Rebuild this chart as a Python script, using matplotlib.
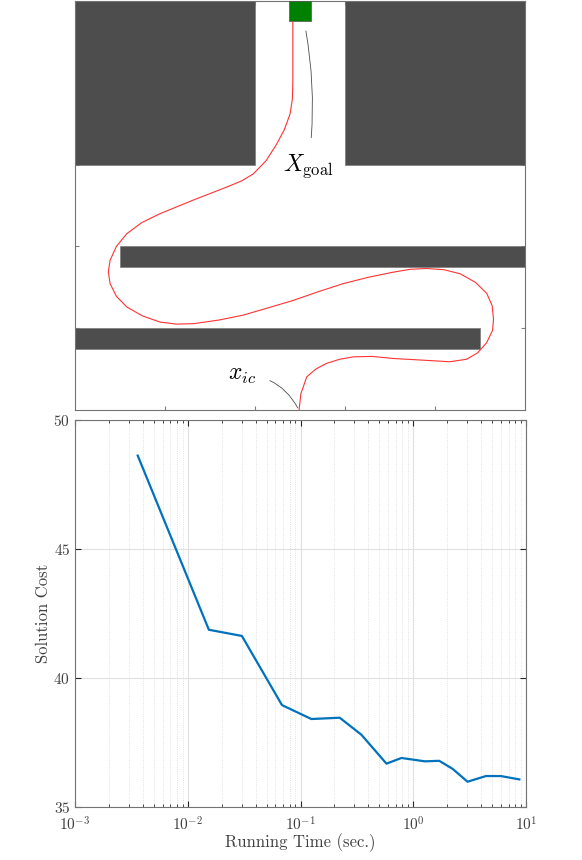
import matplotlib
matplotlib.use("Agg")
import matplotlib.pyplot as plt
from matplotlib.patches import Rectangle

plt.rcParams['mathtext.fontset'] = 'cm'
plt.rcParams['font.family'] = 'serif'
plt.rcParams['font.serif'] = ['cmr10', 'DejaVu Serif']
plt.rcParams['axes.formatter.use_mathtext'] = True

# ---- Top panel data: obstacles (x, y, width, height) in map units ----
obst_x = [0.0, 6.0, 1.0, 0.0]
obst_y = [6.0, 6.0, 3.5, 1.5]
obst_w = [4.0, 4.0, 9.0, 9.0]
obst_h = [4.0, 4.0, 0.5, 0.5]
goal_xy = (4.75, 9.5)
goal_size = (0.5, 0.5)

# path points
path_x = [4.98, 5.02, 5.15, 5.35, 5.59, 5.88, 6.19, 6.6, 7.07, 7.7, 8.33, 8.7, 8.95, 9.15, 9.28, 9.30, 9.27,
          9.15, 8.9, 8.56, 8.2, 7.81, 7.45, 7.07, 6.5, 5.96, 5.4, 4.85, 4.3, 3.74, 3.2, 2.63, 2.25,
          1.89, 1.5, 1.15, 0.92, 0.78, 0.74, 0.78, 0.92, 1.15, 1.48, 1.89, 2.6, 3.37, 3.7, 3.96,
          4.25, 4.48, 4.65, 4.78, 4.83, 4.84, 4.84, 4.84]
path_y = [0.0, 0.4, 0.81, 1.0, 1.14, 1.24, 1.30, 1.31, 1.26, 1.22, 1.18, 1.24, 1.40, 1.65, 1.95, 2.22, 2.55,
          2.85, 3.12, 3.33, 3.43, 3.46, 3.44, 3.37, 3.24, 3.09, 2.89, 2.68, 2.50, 2.32, 2.20, 2.11, 2.10,
          2.15, 2.30, 2.52, 2.78, 3.09, 3.38, 3.66, 4.0, 4.31, 4.58, 4.80, 5.12, 5.45, 5.60, 5.77,
          6.10, 6.50, 6.85, 7.24, 7.60, 7.97, 8.8, 9.48]

# ---- Bottom panel data ----
run_time = [0.0036, 0.01539, 0.0302, 0.0685, 0.1248, 0.2228, 0.347, 0.5787, 0.786, 1.267,
            1.699, 2.232, 3.032, 4.413, 5.957, 8.727]
sol_cost = [48.62, 41.87, 41.63, 38.95, 38.41, 38.46, 37.80, 36.68, 36.90, 36.77,
            36.79, 36.48, 35.98, 36.20, 36.20, 36.07]

W, H = 582, 860
fig = plt.figure(figsize=(W / 100, H / 100), dpi=100)

axc = '0.15'
# ---------------- top axes ----------------
ax1 = fig.add_axes([75 / W, 1 - 410 / H, 450 / W, 409 / H])
for x, y, w, h in zip(obst_x, obst_y, obst_w, obst_h):
    ax1.add_patch(Rectangle((x, y), w, h, facecolor='#4d4d4d', edgecolor='#7a7a7a', lw=0.5, zorder=2))
ax1.add_patch(Rectangle(goal_xy, *goal_size, facecolor='#008000', edgecolor='#555555', lw=0.5, zorder=3))
ax1.plot(path_x, path_y, color='#ff3333', lw=0.8, zorder=4)
ax1.set_xlim(0, 10)
ax1.set_ylim(0, 10)
ax1.set_xticks([2, 4, 6, 8])
ax1.set_yticks([2, 4, 6, 8])
ax1.set_xticklabels([])
ax1.set_yticklabels([])
ax1.tick_params(direction='in', length=3, color='0.5', top=True, right=True)
for s in ax1.spines.values():
    s.set_color('0.45')
    s.set_linewidth(0.8)

ax1.annotate(r'$x_{ic}$', xy=(4.95, 0.05), xytext=(3.72, 0.85), fontsize=17,
             ha='center', va='center', zorder=5,
             arrowprops=dict(arrowstyle='-', color='0.3', lw=0.6,
                             connectionstyle='arc3,rad=-0.3', shrinkA=8, shrinkB=0))
ax1.annotate(r'$X_{\mathrm{goal}}$', xy=(5.13, 9.27), xytext=(5.18, 5.95), fontsize=17,
             ha='center', va='center', zorder=5,
             arrowprops=dict(arrowstyle='-', color='0.3', lw=0.6,
                             connectionstyle='arc3,rad=0.08', shrinkA=9, shrinkB=0))

# ---------------- bottom axes ----------------
ax2 = fig.add_axes([75 / W, 1 - 807 / H, 451 / W, 387 / H])
ax2.plot(run_time, sol_cost, color=(0, 0.447, 0.741), lw=1.6, zorder=3)
ax2.set_xscale('log')
ax2.set_xlim(1e-3, 1e1)
ax2.set_ylim(35, 50)
ax2.set_yticks([35, 40, 45, 50])
ax2.grid(True, which='major', color='0.88', lw=0.8)
ax2.grid(True, which='minor', axis='x', color='0.85', lw=0.6, ls=':')
ax2.tick_params(which='both', direction='in', top=True, right=True, colors=axc,
                labelsize=11, labelcolor='0.25')
ax2.tick_params(which='major', length=4)
ax2.tick_params(axis='x', which='major', pad=6)
ax2.tick_params(which='minor', length=2)
for s in ax2.spines.values():
    s.set_color('0.45')
    s.set_linewidth(0.8)
ax2.set_xlabel('Running Time (sec.)', fontsize=12, color='0.25', labelpad=0)
ax2.set_ylabel('Solution Cost', fontsize=12, color='0.25', labelpad=2)

fig.savefig('out.png', dpi=100)
